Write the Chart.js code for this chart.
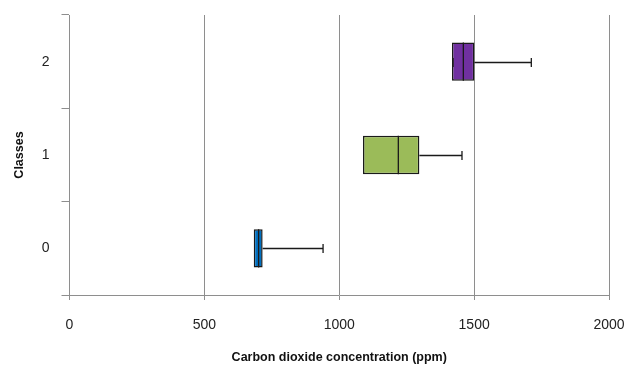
<!DOCTYPE html>
<html>
<head>
<meta charset="utf-8">
<script src="https://cdn.jsdelivr.net/npm/chart.js@4/dist/chart.umd.min.js"></script>
<style>
  html, body { margin: 0; padding: 0; background: #fff; }
  #wrap { width: 627px; height: 370px; }
</style>
</head>
<body>
<div id="wrap"><canvas id="boxChart" width="627" height="370"></canvas></div>
<script>
// box plot values (ppm)
const categories = ['0', '1', '2'];
const mins    = [683, 1088, 1422];
const q1s     = [683, 1088, 1418];
const medians = [701, 1219, 1460];
const q3s     = [716, 1297, 1501];
const maxs    = [940, 1455, 1712];
const xTicks  = [0, 500, 1000, 1500, 2000];
const boxColors = ['#0070C0', '#9BBB59', '#7030A0'];

const gridGray = '#8e8e8e';
const font = 'Liberation Sans';

// whiskers + median drawn with the chart's own scales
const whiskerPlugin = {
    id: 'whiskers',
    afterDatasetsDraw(chart) {
        const ctx = chart.ctx;
        const xs = chart.scales.x;
        const ys = chart.scales.y;
        const meta = chart.getDatasetMeta(0);
        ctx.save();
        ctx.strokeStyle = '#1a1a1a';
        ctx.lineWidth = 1.3;
        categories.forEach((c, i) => {
            const y = Math.round(ys.getPixelForValue(i)) + 0.5;
            const bar = meta.data[i];
            const half = bar.height / 2;
            const cap = 4.5;
            const xMin = xs.getPixelForValue(mins[i]);
            const xQ1 = xs.getPixelForValue(q1s[i]);
            const xMed = xs.getPixelForValue(medians[i]);
            const xQ3 = xs.getPixelForValue(q3s[i]);
            const xMax = xs.getPixelForValue(maxs[i]);
            ctx.beginPath();
            // upper whisker
            ctx.moveTo(xQ3, y); ctx.lineTo(xMax, y);
            ctx.moveTo(xMax, y - cap); ctx.lineTo(xMax, y + cap);
            // lower whisker (only when it differs from the box edge)
            if (mins[i] !== q1s[i]) {
                ctx.moveTo(xMin, y); ctx.lineTo(xQ1, y);
                ctx.moveTo(xMin, y - cap); ctx.lineTo(xMin, y + cap);
            }
            // median
            ctx.moveTo(xMed, bar.y - half); ctx.lineTo(xMed, bar.y + half);
            ctx.stroke();
        });
        ctx.restore();
    }
};

const ctx = document.getElementById('boxChart');

new Chart(ctx, {
    type: 'bar',
    data: {
        labels: categories,
        datasets: [{
            label: 'box',
            data: categories.map((c, i) => [q1s[i], q3s[i]]),
            backgroundColor: boxColors,
            borderColor: '#1a1a1a',
            borderWidth: 1.5,
            borderSkipped: false,
            categoryPercentage: 1,
            barPercentage: 0.41
        }]
    },
    options: {
        indexAxis: 'y',
        responsive: false,
        animation: false,
        layout: { padding: { top: 15, right: 18, left: 0, bottom: 0 } },
        plugins: {
            legend: { display: false },
            tooltip: { enabled: false }
        },
        scales: {
            x: {
                type: 'linear',
                min: 0,
                max: 2000,
                afterBuildTicks: s => { s.ticks = xTicks.map(v => ({ value: v })); },
                afterFit: s => {
                    s.height = 75;
                    s.paddingLeft = 0;
                    s.paddingRight = 0;
                },
                ticks: {
                    color: '#222',
                    font: { family: font, size: 14 },
                    padding: 17,
                    callback: v => String(v)
                },
                grid: { color: gridGray, tickLength: 5, lineWidth: 1 },
                border: { color: gridGray, width: 1 },
                title: {
                    display: true,
                    text: 'Carbon dioxide concentration (ppm)',
                    color: '#111',
                    font: { family: font, size: 12.5, weight: 'bold' },
                    padding: { top: 0, bottom: 5 }
                }
            },
            y: {
                type: 'category',
                reverse: true,
                offset: true,
                afterFit: s => {
                    s.width = 69.5;
                    s.paddingTop = 0;
                    s.paddingBottom = 0;
                },
                ticks: { color: '#222', font: { family: font, size: 14 }, padding: 12 },
                grid: { drawOnChartArea: false, offset: true, color: gridGray, tickLength: 8 },
                border: { color: gridGray, width: 1 },
                title: {
                    display: true,
                    text: 'Classes',
                    color: '#111',
                    font: { family: font, size: 12.5, weight: 'bold' },
                    padding: { top: 12, bottom: 0 }
                }
            }
        }
    },
    plugins: [whiskerPlugin]
});
</script>
</body>
</html>
